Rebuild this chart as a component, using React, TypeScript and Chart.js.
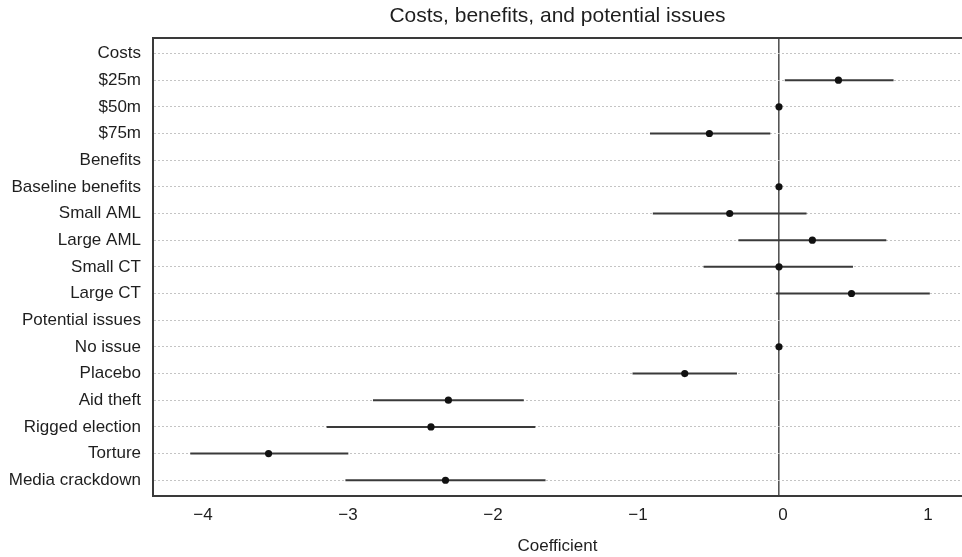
import React, { useEffect, useRef } from "react";
import { Chart, registerables } from "chart.js";

Chart.register(...registerables);

const rowLabels: string[] = [
  "Costs",
  "$25m",
  "$50m",
  "$75m",
  "Benefits",
  "Baseline benefits",
  "Small AML",
  "Large AML",
  "Small CT",
  "Large CT",
  "Potential issues",
  "No issue",
  "Placebo",
  "Aid theft",
  "Rigged election",
  "Torture",
  "Media crackdown",
];

// null = header row (no estimate)
const estimates: (number | null)[] = [
  null, 0.41, 0, -0.48, null, 0, -0.34, 0.23, 0, 0.5, null, 0, -0.65, -2.28, -2.4, -3.52, -2.3,
];
const lowerCI: (number | null)[] = [
  null, 0.04, null, -0.89, null, null, -0.87, -0.28, -0.52, -0.02, null, null, -1.01, -2.8, -3.12, -4.06, -2.99,
];
const upperCI: (number | null)[] = [
  null, 0.79, null, -0.06, null, null, 0.19, 0.74, 0.51, 1.04, null, null, -0.29, -1.76, -1.68, -2.97, -1.61,
];

const xTicks: number[] = [-4, -3, -2, -1, 0, 1];

const titleText = "Costs, benefits, and potential issues";
const xTitle = "Coefficient";

const FONT = "'Liberation Sans', Arial, Helvetica, sans-serif";
const TEXT = "#1e1e1e";

const topBorder = {
  id: "topBorder",
  afterDatasetsDraw(chart: any) {
    const { ctx, chartArea } = chart;
    ctx.save();
    ctx.strokeStyle = "#3a3a3a";
    ctx.lineWidth = 2;
    ctx.beginPath();
    ctx.moveTo(chartArea.left, chartArea.top);
    ctx.lineTo(chartArea.right, chartArea.top);
    ctx.stroke();
    ctx.restore();
  },
};

export default function App() {
  const ref = useRef<HTMLCanvasElement | null>(null);

  useEffect(() => {
    if (!ref.current) return;
    const pointData = estimates
      .map((v, i) => (v === null ? null : { x: v, y: i }))
      .filter((p) => p !== null);
    const ciSets = estimates
      .map((_, i) => i)
      .filter((i) => lowerCI[i] !== null && upperCI[i] !== null)
      .map((i) => ({
        data: [
          { x: lowerCI[i] as number, y: i },
          { x: upperCI[i] as number, y: i },
        ],
        showLine: true,
        borderColor: "#3a3a3a",
        borderWidth: 2,
        pointRadius: 0,
        pointHoverRadius: 0,
      }));

    const chart = new Chart(ref.current, {
      type: "scatter",
      data: {
        datasets: [
          {
            data: pointData as any,
            showLine: false,
            pointRadius: 3.6,
            pointBackgroundColor: "#111",
            pointBorderColor: "#111",
            pointBorderWidth: 0,
          },
          ...ciSets,
        ] as any,
      },
      options: {
        responsive: false,
        animation: false,
        devicePixelRatio: 1,
        layout: { autoPadding: false, padding: { left: 0, right: 0, top: 0, bottom: 0 } },
        plugins: {
          legend: { display: false },
          tooltip: { enabled: false },
          title: {
            display: true,
            text: titleText,
            fullSize: false,
            color: TEXT,
            font: { family: FONT, size: 21, weight: "normal" as any },
            padding: { top: 4, bottom: 8.8 },
          },
        },
        scales: {
          x: {
            type: "linear",
            min: -4.317,
            max: 1.262,
            afterBuildTicks: (scale: any) => {
              scale.ticks = xTicks.map((v) => ({ value: v }));
            },
            afterFit: (scale: any) => {
              scale.paddingLeft = 0;
              scale.paddingRight = 0;
            },
            ticks: {
              includeBounds: false,
              labelOffset: 4,
              padding: 9,
              color: TEXT,
              font: { family: FONT, size: 17 },
              callback: (v: any) => (Number(v) < 0 ? "\u2212" + Math.abs(Number(v)) : String(v)),
              maxRotation: 0,
            },
            grid: {
              drawTicks: false,
              color: (ctx: any) =>
                ctx.tick && ctx.tick.value === 0 ? "#555555" : "rgba(0,0,0,0)",
              lineWidth: 1.6,
            },
            border: { display: true, color: "#3a3a3a", width: 2 },
            title: {
              display: true,
              text: xTitle,
              color: TEXT,
              font: { family: FONT, size: 17 },
              padding: { top: 1.7, bottom: 0.8 },
            },
          },
          y: {
            type: "linear",
            reverse: true,
            min: -0.58,
            max: 16.58,
            afterFit: (scale: any) => {
              scale.width = 153;
            },
            ticks: {
              stepSize: 1,
              includeBounds: false,
              autoSkip: false,
              padding: 12,
              color: TEXT,
              font: { family: FONT, size: 17 },
              callback: (v: any) => rowLabels[Number(v)] ?? "",
            },
            grid: {
              drawTicks: false,
              color: "#c4c4c4",
              lineWidth: 1,
            },
            border: { display: true, color: "#3a3a3a", width: 2, dash: [2, 2] },
          },
        },
      },
      plugins: [topBorder],
    });
    return () => chart.destroy();
  }, []);

  return (
    <div style={{ position: "absolute", left: 0, top: 0, width: 962, height: 557, background: "#fff" }}>
      <canvas ref={ref} width={962} height={557} style={{ width: 962, height: 557 }} />
    </div>
  );
}
